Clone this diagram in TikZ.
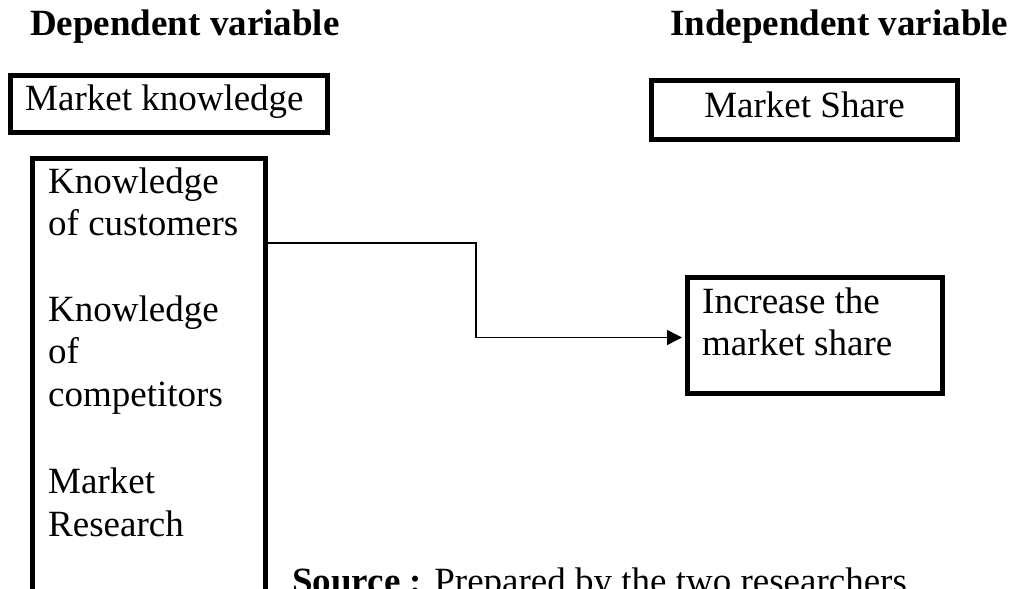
\documentclass[tikz,border=0pt]{standalone}
\usepackage{fontspec}
\setmainfont{Liberation Serif}
\usetikzlibrary{arrows.meta}
\begin{document}
\begin{tikzpicture}[x=1pt,y=-1pt,
  box/.style={draw, line width=5pt, inner sep=0pt},
  txt/.style={anchor=base west, inner sep=0pt, font=\fontsize{37}{43}\selectfont},
  head/.style={txt, font=\fontsize{37}{43}\selectfont\bfseries},
  conn/.style={line width=1.5pt, -{Triangle[length=15pt,width=15pt]}}]
\useasboundingbox (0,0) rectangle (1013,589);
% headings
\node[head] (dep) at (30,35) {Dependent variable};
\node[head] (indep) at (670,35) {Independent variable};
% boxes
\node[box, minimum width=317pt, minimum height=57pt] (mk) at (169,103.5) {};
\node[box, minimum width=306pt, minimum height=59pt] (ms) at (804.5,110) {};
\node[box, minimum width=233pt, minimum height=481.5pt] (tall) at (149,399.25) {};
\node[box, minimum width=254.5pt, minimum height=116.5pt] (inc) at (814.75,335.25) {};
% box texts
\node[txt] (mkt) at (25,110) {Market knowledge};
\node[txt, anchor=base] (mst) at (804.5,117) {Market Share};
\node[txt] (t1) at (48,193) {Knowledge};
\node[txt] (t2) at (48,235) {of customers};
\node[txt] (t3) at (48,321) {Knowledge};
\node[txt] (t4) at (48,363) {of};
\node[txt] (t5) at (48,406) {competitors};
\node[txt] (t6) at (48,493) {Market};
\node[txt] (t7) at (48,536) {Research};
\node[txt] (i1) at (702,313) {Increase the};
\node[txt] (i2) at (702,355) {market share};
% source
\node[txt] (src) at (292,593) {\textbf{Source :} Prepared by the two researchers};
% connector
\coordinate (c1) at (476,243);
\coordinate (c2) at (476,337.5);
\draw[conn, shorten >=3pt] (tall.east |- c1) -- (c1) -- (c2) -- (inc.west |- c2);
\end{tikzpicture}
\end{document}
